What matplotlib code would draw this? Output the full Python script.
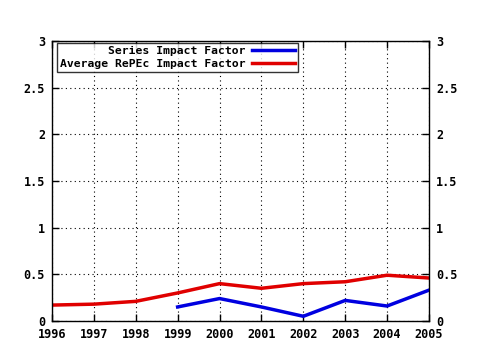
import numpy as np
import matplotlib.pyplot as plt

years = [1996, 1997, 1998, 1999, 2000, 2001, 2002, 2003, 2004, 2005]
series_years = [1999, 2000, 2001, 2002, 2003, 2004, 2005]
series_if = [0.15, 0.24, 0.15, 0.05, 0.22, 0.16, 0.33]
average_if = [0.17, 0.18, 0.21, 0.30, 0.40, 0.35, 0.40, 0.42, 0.49, 0.46]
yticks = [0, 0.5, 1, 1.5, 2, 2.5, 3]
ylabels = ['0', '0.5', '1', '1.5', '2', '2.5', '3']

plt.rcParams['font.family'] = 'DejaVu Sans Mono'
plt.rcParams['font.weight'] = 'bold'
plt.rcParams['font.size'] = 8.5

fig = plt.figure(figsize=(4.8, 3.5), dpi=100)
ax = fig.add_axes([0.1083, 0.083, 0.7854, 0.8])

ax.plot(series_years, series_if, color='#0000e0', lw=2.5, label='Series Impact Factor')
ax.plot(years, average_if, color='#e00000', lw=2.5, label='Average RePEc Impact Factor')

ax.set_xlim(1996, 2005)
ax.set_ylim(0, 3)
ax.set_xticks(years)
ax.set_yticks(yticks)
ax.set_yticklabels(ylabels)
ax.grid(True, color='black', linestyle=(0, (1, 3)), lw=0.8)
ax.tick_params(direction='in', top=True, right=True, labelright=True,
               length=5, width=1, pad=5)
for s in ax.spines.values():
    s.set_linewidth(1)

leg = ax.legend(loc='upper left', bbox_to_anchor=(0.013, 0.993), markerfirst=False,
                frameon=True, fancybox=False, fontsize=8.2,
                borderaxespad=0, borderpad=0.25, handlelength=3.8, labelspacing=0.3,
                handletextpad=0.6)
leg.get_frame().set_edgecolor('black')
leg.get_frame().set_linewidth(1)

fig.savefig('out.png', dpi=100)
